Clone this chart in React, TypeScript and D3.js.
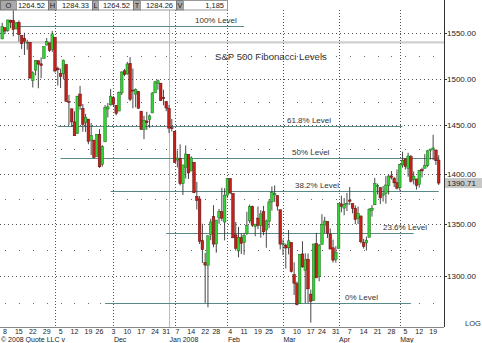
import React from 'react';
import * as d3 from 'd3';

const dates = [
  "2007-10-05","2007-10-08","2007-10-09","2007-10-10","2007-10-11","2007-10-12","2007-10-15","2007-10-16","2007-10-17","2007-10-18","2007-10-19","2007-10-22","2007-10-23","2007-10-24","2007-10-25","2007-10-26","2007-10-29","2007-10-30","2007-10-31",
  "2007-11-01","2007-11-02","2007-11-05","2007-11-06","2007-11-07","2007-11-08","2007-11-09","2007-11-12","2007-11-13","2007-11-14","2007-11-15","2007-11-16","2007-11-19","2007-11-20","2007-11-21","2007-11-23","2007-11-26","2007-11-27","2007-11-28","2007-11-29","2007-11-30",
  "2007-12-03","2007-12-04","2007-12-05","2007-12-06","2007-12-07","2007-12-10","2007-12-11","2007-12-12","2007-12-13","2007-12-14","2007-12-17","2007-12-18","2007-12-19","2007-12-20","2007-12-21","2007-12-24","2007-12-26","2007-12-27","2007-12-28","2007-12-31",
  "2008-01-02","2008-01-03","2008-01-04","2008-01-07","2008-01-08","2008-01-09","2008-01-10","2008-01-11","2008-01-14","2008-01-15","2008-01-16","2008-01-17","2008-01-18","2008-01-22","2008-01-23","2008-01-24","2008-01-25","2008-01-28","2008-01-29","2008-01-30","2008-01-31",
  "2008-02-01","2008-02-04","2008-02-05","2008-02-06","2008-02-07","2008-02-08","2008-02-11","2008-02-12","2008-02-13","2008-02-14","2008-02-15","2008-02-19","2008-02-20","2008-02-21","2008-02-22","2008-02-25","2008-02-26","2008-02-27","2008-02-28","2008-02-29",
  "2008-03-03","2008-03-04","2008-03-05","2008-03-06","2008-03-07","2008-03-10","2008-03-11","2008-03-12","2008-03-13","2008-03-14","2008-03-17","2008-03-18","2008-03-19","2008-03-20","2008-03-24","2008-03-25","2008-03-26","2008-03-27","2008-03-28","2008-03-31",
  "2008-04-01","2008-04-02","2008-04-03","2008-04-04","2008-04-07","2008-04-08","2008-04-09","2008-04-10","2008-04-11","2008-04-14","2008-04-15","2008-04-16","2008-04-17","2008-04-18","2008-04-21","2008-04-22","2008-04-23","2008-04-24","2008-04-25","2008-04-28","2008-04-29","2008-04-30",
  "2008-05-01","2008-05-02","2008-05-05","2008-05-06","2008-05-07","2008-05-08","2008-05-09","2008-05-12","2008-05-13","2008-05-14","2008-05-15","2008-05-16","2008-05-19","2008-05-20","2008-05-21"
];

const opens = [
  1543.8,1556.5,1553.2,1564.9,1564.7,1555.4,1562.3,1547.8,1544.4,1539.3,1540.0,1497.8,1509.3,1519.6,1516.2,1522.2,1536.9,1539.4,1532.2,
  1545.8,1511.1,1505.6,1505.3,1515.5,1475.3,1467.6,1453.7,1441.4,1483.4,1468.0,1453.1,1456.7,1434.5,1434.7,1417.6,1440.7,1409.6,1432.9,1467.4,1471.8,
  1479.6,1471.3,1465.2,1484.6,1508.6,1505.1,1516.7,1487.6,1483.3,1486.2,1465.1,1445.9,1454.7,1456.4,1463.2,1484.6,1495.1,1495.1,1479.8,1475.3,
  1467.9,1447.6,1444.0,1414.1,1415.7,1390.3,1406.8,1419.9,1402.9,1411.9,1377.4,1374.8,1333.9,1312.9,1310.4,1340.1,1357.3,1330.7,1355.9,1362.2,1352.0,
  1378.6,1395.4,1380.3,1339.5,1324.0,1336.9,1331.9,1340.6,1353.1,1367.3,1347.5,1355.9,1348.4,1362.2,1344.2,1352.8,1371.8,1378.9,1378.2,1364.1,
  1330.5,1329.6,1327.0,1332.2,1301.5,1293.2,1274.4,1321.1,1305.3,1316.1,1283.2,1277.2,1331.0,1299.7,1330.3,1349.1,1352.5,1340.3,1327.0,1315.9,
  1326.4,1370.0,1365.7,1369.9,1373.7,1370.2,1365.5,1355.4,1358.0,1332.2,1331.7,1337.0,1363.4,1369.0,1387.7,1386.4,1378.4,1380.5,1388.4,1398.0,1395.6,1391.2,
  1386.0,1409.2,1415.3,1405.6,1417.5,1394.3,1394.9,1389.4,1404.4,1405.7,1408.4,1423.9,1425.3,1424.5,1414.1
];

const highs = [
  1561.9,1556.5,1565.3,1565.4,1576.1,1563.0,1564.7,1547.8,1550.7,1542.8,1540.0,1508.1,1520.0,1519.6,1523.2,1535.5,1544.7,1539.4,1552.8,
  1545.8,1513.2,1510.8,1520.8,1515.5,1482.5,1467.6,1464.9,1481.4,1492.1,1472.7,1462.2,1456.7,1452.6,1434.7,1440.9,1446.1,1429.5,1471.6,1473.8,1488.9,
  1481.2,1471.3,1486.1,1508.0,1510.6,1518.3,1523.6,1511.0,1489.4,1486.7,1465.1,1460.2,1464.4,1461.5,1485.4,1497.6,1499.0,1495.1,1488.0,1475.8,
  1471.8,1456.8,1444.0,1423.9,1430.3,1409.2,1429.1,1419.9,1417.9,1411.9,1391.9,1377.7,1350.3,1322.1,1339.1,1355.2,1368.6,1354.0,1364.9,1385.9,1385.6,
  1396.0,1395.4,1380.3,1352.0,1347.2,1341.2,1341.4,1362.1,1369.2,1368.2,1350.0,1367.3,1363.7,1367.9,1354.3,1374.4,1387.3,1388.3,1378.2,1364.1,
  1335.1,1331.0,1344.2,1332.2,1313.2,1295.0,1320.7,1333.3,1321.7,1321.5,1287.5,1330.7,1341.5,1330.7,1359.7,1357.1,1352.5,1345.6,1334.9,1328.5,
  1370.2,1378.0,1375.7,1380.9,1386.7,1370.2,1368.4,1367.2,1358.0,1335.6,1337.7,1365.5,1368.6,1395.9,1390.2,1386.4,1387.8,1397.7,1399.1,1402.9,1397.0,1404.6,
  1410.1,1422.7,1415.3,1421.6,1419.5,1402.4,1394.9,1404.1,1406.3,1420.2,1424.4,1425.8,1440.2,1424.5,1419.1
];

const lows = [
  1543.8,1549.0,1551.8,1555.9,1546.7,1554.2,1540.8,1532.7,1526.0,1531.8,1500.3,1490.4,1503.6,1489.6,1500.5,1522.2,1536.9,1529.4,1529.4,
  1506.7,1492.5,1489.9,1499.1,1475.0,1450.3,1448.5,1439.1,1441.4,1466.5,1443.5,1443.2,1430.4,1419.3,1415.6,1417.6,1406.1,1407.4,1432.9,1458.4,1470.9,
  1470.1,1460.7,1465.2,1482.2,1502.7,1504.4,1475.8,1468.2,1469.2,1467.8,1445.4,1435.7,1445.3,1447.5,1463.2,1484.6,1488.0,1475.9,1471.3,1465.1,
  1442.1,1443.7,1411.2,1406.6,1388.3,1378.7,1395.3,1394.8,1402.9,1380.6,1364.3,1330.7,1312.5,1275.0,1271.0,1334.3,1327.5,1322.3,1350.3,1352.9,1334.1,
  1375.9,1379.7,1336.6,1324.3,1317.9,1321.1,1320.3,1339.4,1350.8,1347.3,1338.1,1345.0,1336.8,1339.1,1327.0,1346.0,1363.3,1372.0,1363.2,1325.4,
  1320.0,1307.4,1320.7,1303.4,1282.4,1272.7,1274.4,1307.9,1274.9,1274.9,1257.0,1277.2,1298.4,1295.2,1330.3,1341.2,1336.4,1325.7,1312.9,1312.8,
  1326.4,1361.6,1358.7,1362.8,1369.0,1360.6,1350.0,1350.1,1331.2,1326.2,1324.4,1337.0,1357.3,1369.0,1379.3,1369.8,1372.2,1370.1,1379.2,1394.4,1386.7,1384.3,
  1383.1,1406.3,1404.4,1397.1,1391.2,1389.4,1384.1,1386.2,1396.3,1405.7,1406.9,1414.6,1414.1,1409.1,1388.8
];

const closes = [
  1557.6,1552.6,1565.2,1562.5,1554.4,1561.8,1548.7,1538.5,1541.2,1540.1,1500.6,1506.3,1519.6,1515.9,1514.4,1535.3,1541.0,1531.0,1549.4,
  1508.4,1509.7,1502.2,1520.3,1475.6,1474.8,1453.7,1439.2,1481.1,1470.6,1451.2,1458.7,1433.3,1439.7,1416.8,1440.7,1407.2,1428.2,1469.0,1469.7,1481.1,
  1472.4,1462.8,1485.0,1507.3,1504.7,1516.0,1477.7,1486.6,1488.4,1468.0,1445.9,1455.0,1453.0,1460.1,1484.5,1496.5,1497.7,1476.3,1478.5,1468.4,
  1447.2,1447.2,1411.6,1416.2,1390.2,1409.1,1420.3,1401.0,1416.3,1381.0,1373.2,1333.3,1325.2,1310.5,1338.6,1352.1,1330.6,1354.0,1362.3,1355.8,1378.6,
  1395.4,1380.8,1336.6,1326.5,1336.9,1331.3,1339.1,1348.9,1367.2,1348.9,1350.0,1348.8,1360.0,1342.5,1353.1,1371.8,1381.3,1380.0,1367.7,1330.6,
  1331.3,1326.8,1333.7,1304.3,1293.4,1273.4,1320.7,1308.8,1315.5,1288.1,1276.6,1330.7,1298.4,1329.5,1349.9,1353.0,1341.1,1325.8,1315.2,1322.7,
  1370.2,1367.5,1369.3,1370.4,1372.5,1365.5,1354.5,1360.6,1332.8,1328.3,1334.4,1364.7,1365.6,1390.3,1388.2,1375.9,1379.9,1388.8,1397.8,1396.4,1390.9,1385.6,
  1409.3,1413.9,1407.5,1418.3,1392.6,1397.7,1388.3,1403.6,1403.0,1408.7,1423.6,1425.4,1426.6,1413.4,1390.7
];

const yTicks = [1550, 1500, 1450, 1400, 1350, 1300];
const minorLevels = [1525, 1475, 1425, 1375, 1325, 1275];
const weekTickDates = [
  "2007-10-08","2007-10-15","2007-10-22","2007-10-29","2007-11-05","2007-11-12","2007-11-19","2007-11-26",
  "2007-12-03","2007-12-10","2007-12-17","2007-12-24","2007-12-31","2008-01-07","2008-01-14","2008-01-22","2008-01-28",
  "2008-02-04","2008-02-11","2008-02-19","2008-02-25","2008-03-03","2008-03-10","2008-03-17","2008-03-24","2008-03-31",
  "2008-04-07","2008-04-14","2008-04-21","2008-04-28","2008-05-05","2008-05-12","2008-05-19"
];
const monthLabelDates = ["2007-12-03","2008-01-02","2008-02-01","2008-03-03","2008-04-01","2008-05-01"];
const monthLabels = ["Dec","Jan 2008","Feb","Mar","Apr","May"];
const monthGridDates = ["2007-11-01","2007-12-03","2008-01-04","2008-02-01","2008-03-03","2008-04-01","2008-05-01"];
const yearLineDate = "2008-01-02";
const fibHigh = 1558;
const fibLow = 1275;
const fibPcts = [100, 61.8, 50, 38.2, 23.6, 0];
const fibLabels = ["100% Level","61.8% Level","50% Level","38.2% Level","23.6% Level","0% Level"];
const fibStart = ["2007-10-11","2007-11-02","2007-11-05","2007-11-30","2007-12-31","2007-11-28"];
const fibEnd = ["2008-02-11","2008-05-02","2008-05-21","2008-05-21","2008-05-08","2008-05-07"];
const fibLabelX = [195, 287, 292, 295, 383, 345];
const refLevel = 1540;
const lastPrice = 1390.71;
const headerLetters = ["O","H","L","T","V"];
const headerValues = ["1264.52","1284.33","1264.52","1284.26","1,185"];

const FONT = "'Liberation Sans', Arial, Helvetica, sans-serif";

export default function App() {
  const W = 482, H = 343;
  const plotRight = 444, plotTop = 10, plotBottom = 327;
  const x = d3.scalePoint<string>().domain(dates).range([2.2, 438.7]);
  const y = d3.scaleLog().domain([1253, 1576.5]).range([plotBottom, plotTop]);
  const fmt = d3.format(".2f");

  const letterCells = [[0, 16], [48, 56], [92, 98], [133, 140], [176, 183]];
  const valueCells = [[16, 48], [56, 92], [98, 133], [140, 176], [183, 227]];

  const fibLine = "#5a8a87";
  const up = "#35d235", upEdge = "#1c6b1c";
  const dn = "#c4201c", dnEdge = "#5c0d0b";

  return (
    <svg width={W} height={H} style={{ position: 'absolute', left: 0, top: 0, background: '#fff' }}
      fontFamily={FONT}>
      <rect x={0} y={0} width={W} height={H} fill="#fff" />
      <line x1={0} x2={plotRight} y1={y(refLevel)} y2={y(refLevel)} stroke="#cfcfcf" strokeWidth={2.2} />
      {yTicks.map(t => (
        <line key={'g' + t} x1={0} x2={plotRight} y1={Math.round(y(t)) + 0.5} y2={Math.round(y(t)) + 0.5}
          stroke="#555" strokeWidth={1} strokeDasharray="1,3" />
      ))}
      {minorLevels.map(l => weekTickDates.map(d => (
        <rect key={'m' + l + d} x={Math.round(x(d)!)} y={Math.round(y(l))} width={1} height={1} fill="#666" />
      )))}
      {monthGridDates.map(d => (
        <line key={'v' + d} x1={Math.round(x(d)!) + 0.5} x2={Math.round(x(d)!) + 0.5} y1={plotTop} y2={plotBottom}
          stroke="#555" strokeWidth={1} strokeDasharray="1,2" />
      ))}
      <line x1={Math.round(x(yearLineDate)!) + 0.5} x2={Math.round(x(yearLineDate)!) + 0.5} y1={plotTop} y2={plotBottom}
        stroke="#bbb" strokeWidth={1} />
      {fibPcts.map((p, i) => {
        const lv = fibLow + (fibHigh - fibLow) * p / 100;
        const yy = Math.round(y(lv)) + 0.5;
        return (
          <g key={'f' + i}>
            <line x1={x(fibStart[i])} x2={x(fibEnd[i])} y1={yy} y2={yy} stroke={fibLine} strokeWidth={1} />
            <text x={fibLabelX[i]} y={yy - 4} fontSize={8} fill="#333">{fibLabels[i]}</text>
          </g>
        );
      })}
      <text x={215} y={60} fontSize={9.6} fill="#333">S&amp;P 500 Fibonacci Levels</text>
      {dates.map((d, i) => {
        const cx = x(d)!;
        const o = opens[i], c = closes[i];
        const isUp = c >= o;
        const top = y(Math.max(o, c)), bot = y(Math.min(o, c));
        return (
          <g key={d}>
            <line x1={cx} x2={cx} y1={y(highs[i])} y2={y(lows[i])} stroke="#333" strokeWidth={0.9} />
            <rect x={cx - 1.3} y={top} width={2.6} height={Math.max(bot - top, 0.8)}
              fill={isUp ? up : dn} stroke={isUp ? upEdge : dnEdge} strokeWidth={0.5} />
          </g>
        );
      })}
      <line x1={plotRight + 0.5} x2={plotRight + 0.5} y1={0} y2={plotBottom} stroke="#333" strokeWidth={1} />
      <line x1={0} x2={plotRight} y1={plotBottom + 0.5} y2={plotBottom + 0.5} stroke="#888" strokeWidth={1} />
      {yTicks.map(t => (
        <g key={'yt' + t}>
          <line x1={plotRight} x2={plotRight + 3} y1={Math.round(y(t)) + 0.5} y2={Math.round(y(t)) + 0.5} stroke="#333" />
          <text x={447} y={y(t) + 3} fontSize={8} fill="#222">{fmt(t)}</text>
        </g>
      ))}
      <rect x={445} y={y(lastPrice) - 5} width={37} height={10} fill="#c8c8c8" />
      <text x={447} y={y(lastPrice) + 3} fontSize={8} fill="#222">{fmt(lastPrice)}</text>
      <text x={465} y={326} fontSize={7.5} fill="#333">LOG</text>
      {weekTickDates.map(d => (
        <text key={'xl' + d} x={x(d)} y={333.5} fontSize={7} textAnchor="middle" fill="#222">
          {String(+d.slice(8))}
        </text>
      ))}
      {monthLabelDates.map((d, i) => (
        <text key={'ml' + d} x={x(d)! + 0.5} y={341.5} fontSize={7} fill="#222">{monthLabels[i]}</text>
      ))}
      <text x={1} y={341.5} fontSize={7} fill="#222">© 2008 Quote LLC v</text>
      <rect x={0} y={0} width={227} height={10} fill="#fff" />
      {headerLetters.map((l, i) => (
        <g key={'h' + l}>
          <rect x={letterCells[i][0] + 0.5} y={0.5} width={letterCells[i][1] - letterCells[i][0]} height={9.5}
            fill="#a9a9a9" stroke="#777" strokeWidth={1} />
          <text x={(letterCells[i][0] + letterCells[i][1]) / 2 + 0.5} y={8.3} fontSize={7.5} textAnchor="middle" fill="#222">{l}</text>
          <rect x={valueCells[i][0] + 0.5} y={0.5} width={valueCells[i][1] - valueCells[i][0]} height={9.5}
            fill="#fff" stroke="#999" strokeWidth={1} />
          <text x={valueCells[i][1] - 3} y={8.3} fontSize={7.5} textAnchor="end" fill="#222">{headerValues[i]}</text>
        </g>
      ))}
    </svg>
  );
}
